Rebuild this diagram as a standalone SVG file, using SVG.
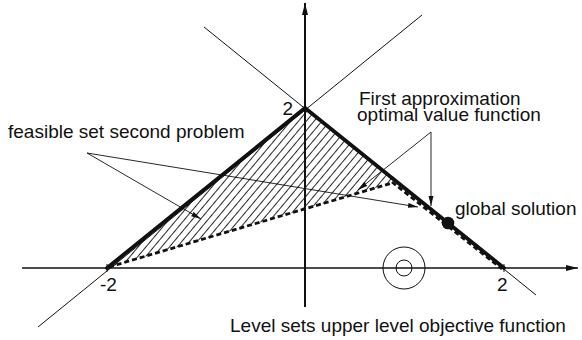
<svg xmlns="http://www.w3.org/2000/svg" width="582" height="340" viewBox="0 0 582 340">
<style>
text{font-family:"Liberation Sans",Arial,sans-serif;font-size:19px;fill:#111}
.thin{stroke:#111;stroke-width:1;fill:none}
.thick{stroke:#111;stroke-width:3.8;fill:none;stroke-linecap:round}
.dash{stroke:#111;stroke-width:2.8;fill:none;stroke-dasharray:5 3}
.lead{stroke:#111;stroke-width:0.9;fill:none;marker-end:url(#ah)}
</style>
<defs>
<marker id="ah" viewBox="0 0 10 6" refX="10" refY="3" markerWidth="10" markerHeight="6" markerUnits="userSpaceOnUse" orient="auto">
<path d="M0,0.5 L10,3 L0,5.5 Z" fill="#111"/>
</marker>
<marker id="axh" viewBox="0 0 12 6" refX="12" refY="3" markerWidth="12" markerHeight="6" markerUnits="userSpaceOnUse" orient="auto">
<path d="M0,0 L12,3 L0,6 Z" fill="#111"/>
</marker>
<pattern id="hatch" width="6" height="6" patternUnits="userSpaceOnUse" patternTransform="rotate(-50)">
<line x1="0" y1="0.5" x2="6" y2="0.5" stroke="#111" stroke-width="0.9"/>
</pattern>
</defs>
<rect width="582" height="340" fill="#fff"/>
<g id="hatched-region">
<path d="M107,268 L305,108 L392,178 L392,183 Z" fill="url(#hatch)" stroke="none"/>
</g>
<g id="axes">
<line x1="22" y1="268" x2="578" y2="268" stroke="#111" stroke-width="1.3" marker-end="url(#axh)"/>
<line x1="305" y1="307" x2="305" y2="3" stroke="#111" stroke-width="2" marker-end="url(#axh)"/>
<line x1="107" y1="264" x2="107" y2="272" stroke="#111" stroke-width="1"/>
<line x1="504" y1="264" x2="504" y2="272" stroke="#111" stroke-width="1"/>
</g>
<g id="diagonals">
<line class="thin" x1="38" y1="327" x2="422" y2="15"/>
<line class="thin" x1="204" y1="27" x2="536" y2="295"/>
</g>
<g id="boundaries">
<line class="thick" x1="107" y1="268" x2="305" y2="108"/>
<line class="thick" x1="305" y1="108" x2="504" y2="268"/>
<line class="dash" x1="109" y1="267" x2="392" y2="183"/>
<line class="dash" x1="392" y1="182" x2="502" y2="269"/>
</g>
<g id="level-sets">
<circle cx="404" cy="268" r="21" class="thin"/>
<circle cx="404" cy="268" r="8" class="thin"/>
</g>
<g id="global-solution">
<circle cx="448" cy="223" r="6.3" fill="#111"/>
<text x="455" y="215">global solution</text>
</g>
<g id="connectors">
<line class="lead" x1="87" y1="153" x2="418" y2="207"/>
<line class="lead" x1="87" y1="153" x2="201" y2="219"/>
<line class="lead" x1="431" y1="132" x2="358" y2="190"/>
<line class="lead" x1="431" y1="132" x2="431" y2="206"/>
</g>
<g id="labels">
<text x="8" y="138">feasible set second problem</text>
<text x="359" y="105">First approximation</text>
<text x="357" y="121">optimal value function</text>
<text x="293" y="115" text-anchor="end">2</text>
<text x="100" y="291">-2</text>
<text x="497" y="291">2</text>
<text x="230" y="332">Level sets upper level objective function</text>
</g>
</svg>
